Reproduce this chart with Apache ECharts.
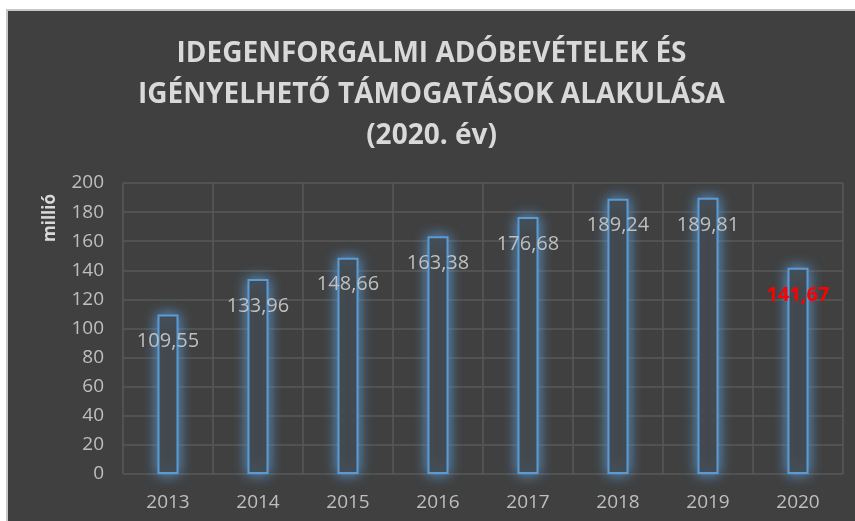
<!DOCTYPE html>
<html>
<head>
<meta charset="utf-8">
<script src="https://cdn.jsdelivr.net/npm/echarts@6/dist/echarts.min.js"></script>
<style>
html,body{margin:0;padding:0;background:#ffffff;}
#frame{position:absolute;left:6px;top:9px;width:849px;height:512px;background:#c8c8c8;}
#chart{position:absolute;left:8px;top:11px;width:847px;height:510px;}
</style>
</head>
<body>
<div id="frame"></div>
<div id="chart"></div>
<script>
const categories = ['2013','2014','2015','2016','2017','2018','2019','2020'];
const values = [109.55, 133.96, 148.66, 163.38, 176.68, 189.24, 189.81, 141.67];
const yTicks = { min: 0, max: 200, interval: 20 };
const titleLines = ['IDEGENFORGALMI ADÓBEVÉTELEK ÉS', 'IGÉNYELHETŐ TÁMOGATÁSOK ALAKULÁSA', '(2020. év)'];
const yAxisTitle = 'millió';
const highlightIndex = 7;

const fmt = v => v.toFixed(2).replace('.', ',');
const chart = echarts.init(document.getElementById('chart'));
const ox = 8, oy = 11;

chart.setOption({
  backgroundColor: '#404040',
  animation: false,
  title: {
    text: titleLines.join('\n'),
    left: 'center',
    top: 18,
    textStyle: {
      color: '#d9d9d9',
      fontSize: 28,
      fontWeight: 'bold',
      fontFamily: 'Open Sans',
      lineHeight: 41
    }
  },
  graphic: [{
    type: 'text',
    left: 42 - ox,
    top: 194 - oy,
    rotation: Math.PI / 2,
    style: {
      text: yAxisTitle,
      fill: '#d9d9d9',
      font: 'bold 17px "Open Sans"'
    }
  }],
  grid: { left: 123 - ox, right: 855 - 843, top: 183 - oy, bottom: 521 - 474 },
  xAxis: {
    type: 'category',
    data: categories,
    axisLine: { show: false },
    axisTick: { show: false },
    splitLine: { show: true, lineStyle: { color: '#585858', width: 1.5 } },
    axisLabel: { color: '#bfbfbf', fontSize: 19, fontFamily: 'Open Sans', margin: 19 }
  },
  yAxis: {
    type: 'value',
    min: yTicks.min, max: yTicks.max, interval: yTicks.interval,
    axisLine: { show: false },
    axisTick: { show: false },
    splitLine: { lineStyle: { color: '#585858', width: 1.5 } },
    axisLabel: { color: '#bfbfbf', fontSize: 19, fontFamily: 'Open Sans', margin: 19 }
  },
  series: [{
    type: 'bar',
    data: values.map((v, i) => ({
      value: v,
      label: i === highlightIndex ? { color: '#ff0000', fontWeight: 'bold' } : {}
    })),
    barWidth: 21,
    itemStyle: {
      color: '#404040',
      borderColor: '#5b9bd5',
      borderWidth: 2,
      shadowColor: 'rgba(91,155,213,1)',
      shadowBlur: 14
    },
    label: {
      show: true,
      position: 'insideTop',
      distance: 17,
      color: '#bfbfbf',
      fontSize: 20,
      fontFamily: 'Open Sans',
      formatter: p => fmt(p.value)
    }
  }]
});
</script>
</body>
</html>
